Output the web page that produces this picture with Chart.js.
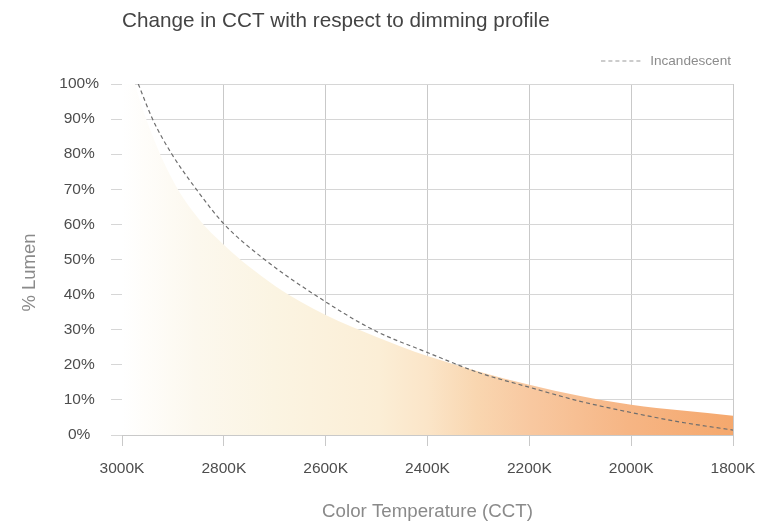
<!DOCTYPE html>
<html>
<head>
<meta charset="utf-8">
<script src="https://cdn.jsdelivr.net/npm/chart.js@4/dist/chart.umd.min.js"></script>
<style>
  html, body { margin: 0; padding: 0; background: #ffffff; }
  #wrap { width: 760px; height: 528px; position: relative; }
</style>
</head>
<body>
<div id="wrap"><canvas id="c"></canvas></div>
<script>
// ---- data ----
const cctTicks = [3000, 2800, 2600, 2400, 2200, 2000, 1800];
const lumenTicks = [0, 10, 20, 30, 40, 50, 60, 70, 80, 90, 100];

// LED dim-to-warm profile (filled area)
const ledCct   = [3000, 2950, 2900, 2850, 2800, 2750, 2700, 2650, 2600, 2550, 2500, 2450, 2400, 2300, 2200, 2100, 2000, 1900, 1800];
const ledLumen = [112,  89,   72.5, 61.7, 54.2, 47.9, 42.5, 38.0, 34.2, 30.9, 27.9, 25.1, 22.5, 18.1, 14.3, 11.1, 8.6,  6.95, 5.5];

// Incandescent curve (dashed)
const incCct   = [2968, 2940, 2902, 2854, 2799, 2720, 2622, 2507, 2400, 2300, 2200, 2100, 2000, 1900, 1800];
const incLumen = [100,  90,   80,   70,   60,   50,   40,   30,   23.5, 17.8, 13.6, 9.6,  6.4,  3.6,  1.4];

const titleText = 'Change in CCT with respect to dimming profile';
const xTitle = 'Color Temperature (CCT)';
const yTitle = '% Lumen';
const incLabel = 'Incandescent';

const FONT = "'Liberation Sans', Arial, Helvetica, sans-serif";

function gradientFill(context) {
  const chart = context.chart;
  const area = chart.chartArea;
  if (!area) return 'rgba(245,168,109,0.6)';
  const g = chart.ctx.createLinearGradient(area.left, 0, area.right, 0);
  g.addColorStop(0.00, '#ffffff');
  g.addColorStop(0.12, '#fcf8ee');
  g.addColorStop(0.25, '#fbf4e2');
  g.addColorStop(0.42, '#fbeed6');
  g.addColorStop(0.50, '#fbe5c8');
  g.addColorStop(0.58, '#f9d6b0');
  g.addColorStop(0.67, '#f8c8a0');
  g.addColorStop(0.83, '#f6b584');
  g.addColorStop(1.00, '#f5a86d');
  return g;
}

// dashed legend sample
const legendSample = (() => {
  const c = document.createElement('canvas');
  c.width = 40; c.height = 4;
  const x = c.getContext('2d');
  x.strokeStyle = '#9a9a9a';
  x.lineWidth = 1.2;
  x.setLineDash([4, 3]);
  x.beginPath();
  x.moveTo(0, 2);
  x.lineTo(40, 2);
  x.stroke();
  return c;
})();

// y-axis title placed like the reference (slightly below the plot centre)
const yTitlePlugin = {
  id: 'yTitleText',
  afterDraw(chart) {
    const ctx = chart.ctx;
    ctx.save();
    ctx.translate(30, 272.5);
    ctx.rotate(-Math.PI / 2);
    ctx.fillStyle = '#8a8a8a';
    ctx.font = '18.5px ' + FONT;
    ctx.textAlign = 'center';
    ctx.textBaseline = 'middle';
    ctx.fillText(yTitle, 0, 0);
    ctx.restore();
  }
};

new Chart(document.getElementById('c'), {
  type: 'line',
  data: {
    datasets: [
      {
        label: 'LED',
        data: ledCct.map((x, i) => ({ x: x, y: ledLumen[i] })),
        fill: 'origin',
        backgroundColor: gradientFill,
        borderWidth: 0,
        borderColor: 'rgba(0,0,0,0)',
        pointRadius: 0,
        pointHoverRadius: 0,
        cubicInterpolationMode: 'monotone',
        order: 2
      },
      {
        label: incLabel,
        data: incCct.map((x, i) => ({ x: x, y: incLumen[i] })),
        fill: false,
        borderColor: '#6e6e6e',
        borderWidth: 1.2,
        borderDash: [4, 3],
        pointRadius: 0,
        pointHoverRadius: 0,
        pointStyle: legendSample,
        cubicInterpolationMode: 'monotone',
        order: 1
      }
    ]
  },
  plugins: [yTitlePlugin],
  options: {
    responsive: true,
    maintainAspectRatio: false,
    animation: false,
    layout: { padding: { left: 0, right: 27, top: 0, bottom: 0 } },
    plugins: {
      tooltip: { enabled: false },
      title: {
        display: true,
        text: titleText,
        align: 'start',
        fullSize: false,
        color: '#444444',
        font: { family: FONT, size: 20.7, weight: 'normal' },
        padding: { top: 9.3, bottom: 18.06 }
      },
      legend: {
        display: true,
        position: 'top',
        align: 'end',
        fullSize: false,
        labels: {
          filter: (item) => item.datasetIndex === 1,
          usePointStyle: true,
          pointStyle: legendSample,
          pointStyleWidth: 44,
          boxWidth: 44,
          padding: 2,
          color: '#8c8c8c',
          font: { family: FONT, size: 13.6 }
        }
      }
    },
    scales: {
      x: {
        type: 'linear',
        reverse: true,
        min: 1800,
        max: 3000,
        afterBuildTicks: (s) => { s.ticks = cctTicks.map(v => ({ value: v })); },
        afterFit: (s) => { s.height = 93; s.paddingLeft = 0; s.paddingRight = 0; },
        ticks: {
          callback: (v) => v + 'K',
          color: '#4d4d4d',
          padding: 13,
          maxRotation: 0,
          font: { family: FONT, size: 15.5 }
        },
        grid: { color: '#c9c9c9', lineWidth: 1, tickLength: 11, drawTicks: true },
        border: { color: '#c9c9c9' },
        title: {
          display: true,
          text: xTitle,
          color: '#8a8a8a',
          font: { family: FONT, size: 18.7 },
          padding: { top: 0, bottom: 5 }
        },
        z: 1
      },
      xTop: {
        type: 'linear',
        position: 'top',
        display: true,
        ticks: { display: false },
        grid: { display: false, drawTicks: false },
        border: { display: false },
        afterFit: (s) => { s.height = 6.2; s.paddingLeft = 0; s.paddingRight = 0; }
      },
      y: {
        type: 'linear',
        min: 0,
        max: 100,
        afterBuildTicks: (s) => { s.ticks = lumenTicks.map(v => ({ value: v })); },
        afterFit: (s) => { s.width = 122; },
        ticks: {
          callback: (v) => v + '%',
          color: '#4d4d4d',
          padding: 12,
          crossAlign: 'center',
          font: { family: FONT, size: 15.5 }
        },
        grid: { color: '#d6d6d6', lineWidth: 1, tickLength: 11, drawTicks: true },
        border: { color: '#c9c9c9' },
        title: { display: false, text: yTitle },
        z: 1
      }
    }
  }
});
</script>
</body>
</html>
